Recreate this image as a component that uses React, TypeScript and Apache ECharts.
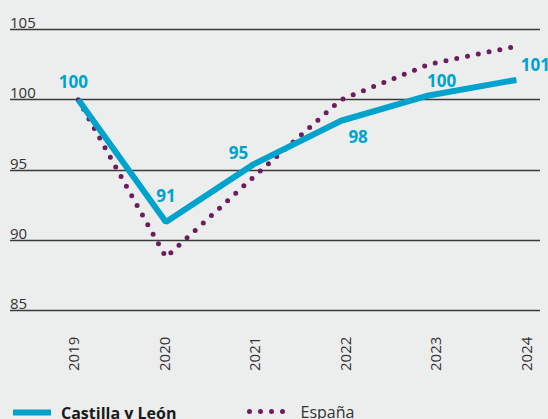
import React, { useEffect, useRef } from "react";
import * as echarts from "echarts";

// ---- Data ----
const years = ["2019", "2020", "2021", "2022", "2023", "2024"];
const castillaLeon = [100, 91.3, 95.4, 98.5, 100.3, 101.4];
const espana = [100, 88.8, 94.5, 100.0, 102.5, 103.8];
const castillaLabels = ["100", "91", "95", "98", "100", "101"];
const yMin = 85;
const yMax = 105;
const yInterval = 5;
const seriesNames = ["Castilla y León", "España"];

// ---- Styling (not data) ----
const labelOffsets: [number, number][] = [
  [-5, -18],
  [0, -27],
  [-15, -12],
  [17, 16],
  [13, -15],
  [19, -15],
];
const BLUE = "#00a3cc";
const PURPLE = "#6b1d5f";
const BG = "#eceeed";
const FONT = "'Open Sans', 'Noto Sans', sans-serif";

export default function App() {
  const ref = useRef<HTMLDivElement>(null);

  useEffect(() => {
    if (!ref.current) return;
    const chart = echarts.init(ref.current, undefined, { renderer: "svg" });
    const top = 29.3;
    const height = 281.4;
    const hiddenSymbol = { opacity: 0, color: "rgba(0,0,0,0)", borderWidth: 0 };
    const blueLine = { color: BLUE, width: 6, type: "solid" as const };
    const purpleLine = { color: PURPLE, width: 5, type: [0, 11], cap: "round" as const };
    chart.setOption({
      animation: false,
      backgroundColor: BG,
      textStyle: { fontFamily: FONT },
      grid: [
        { left: 10, right: 8, top, height },
        { left: 78.3, right: 31.7, top, height },
        { left: 73.3, right: 22, top, height },
      ],
      xAxis: [
        { gridIndex: 0, type: "value", show: false, min: 0, max: 1 },
        { gridIndex: 1, type: "category", data: years, boundaryGap: false, show: false },
        {
          gridIndex: 2,
          type: "category",
          data: years,
          boundaryGap: false,
          axisLine: { show: false },
          axisTick: { show: false },
          splitLine: { show: false },
          axisLabel: {
            rotate: 90,
            margin: 26,
            fontSize: 15,
            color: "#333",
            fontFamily: FONT,
          },
        },
      ],
      yAxis: [
        {
          gridIndex: 0,
          type: "value",
          min: yMin,
          max: yMax,
          interval: yInterval,
          axisLine: { show: false },
          axisTick: { show: false },
          splitLine: { show: true, lineStyle: { color: "#3a3a3a", width: 1.3 } },
          axisLabel: {
            inside: true,
            margin: 0,
            verticalAlign: "bottom",
            fontSize: 15,
            color: "#333",
            fontFamily: FONT,
          },
        },
        { gridIndex: 1, type: "value", min: yMin, max: yMax, show: false, splitLine: { show: false } },
        { gridIndex: 2, type: "value", min: yMin, max: yMax, show: false, splitLine: { show: false } },
      ],
      legend: [
        {
          data: [seriesNames[0]],
          left: 10,
          top: 403,
          padding: 0,
          itemWidth: 38,
          itemHeight: 24,
          itemStyle: hiddenSymbol,
          lineStyle: blueLine,
          textStyle: {
            fontSize: 16,
            fontWeight: "bold",
            color: "#1a1a1a",
            fontFamily: FONT,
            padding: [0, 0, 10, 5],
          },
        },
        {
          data: [seriesNames[1]],
          left: 247,
          top: 402,
          padding: 0,
          itemWidth: 44,
          itemHeight: 24,
          itemStyle: hiddenSymbol,
          lineStyle: purpleLine,
          textStyle: {
            fontSize: 16,
            color: "#333",
            fontFamily: FONT,
            padding: [0, 0, 10, 2],
          },
        },
      ],
      series: [
        {
          name: seriesNames[1],
          type: "line",
          xAxisIndex: 1,
          yAxisIndex: 1,
          data: espana,
          symbol: "none",
          z: 2,
          lineStyle: purpleLine,
          itemStyle: { color: PURPLE },
        },
        {
          name: seriesNames[0],
          type: "line",
          xAxisIndex: 1,
          yAxisIndex: 1,
          z: 3,
          symbol: "circle",
          symbolSize: 1,
          showSymbol: true,
          data: castillaLeon.map((v, i) => ({
            value: v,
            label: { offset: labelOffsets[i] },
          })),
          lineStyle: blueLine,
          itemStyle: { color: BLUE },
          label: {
            show: true,
            position: "inside",
            align: "center",
            verticalAlign: "middle",
            color: BLUE,
            fontSize: 17,
            fontWeight: "bold",
            fontFamily: FONT,
            formatter: (p: any) => castillaLabels[p.dataIndex],
          },
        },
      ],
    });
    return () => chart.dispose();
  }, []);

  return (
    <div
      ref={ref}
      style={{ position: "absolute", left: 0, top: 0, width: 548, height: 419 }}
    />
  );
}
